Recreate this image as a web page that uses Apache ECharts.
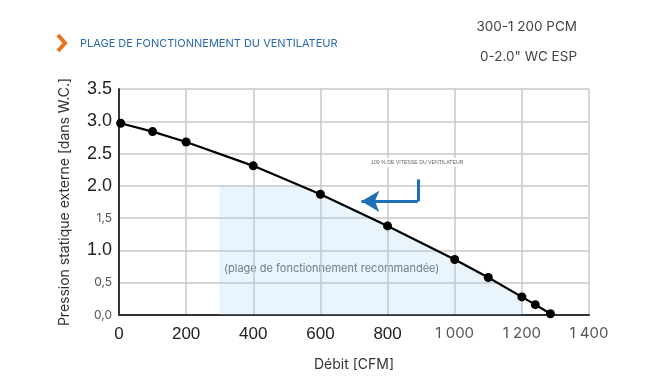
<!DOCTYPE html>
<html><head><meta charset="utf-8">
<script src="https://cdn.jsdelivr.net/npm/echarts@6/dist/echarts.min.js"></script>
<style>html,body{margin:0;padding:0;background:#fff}#c{width:665px;height:380px}</style>
</head><body><div id="c"></div>
<script>
// Data
const flowCFM = [5, 100, 200, 400, 600, 800, 1000, 1100, 1200, 1240, 1285];
const pressure = [2.97, 2.84, 2.68, 2.31, 1.87, 1.38, 0.86, 0.58, 0.28, 0.16, 0.02];
const rangeMin = 300, rangeMax = 1200, rangeTopPressure = 2.0;
const xTickLabels = ['0','200','400','600','800','1 000','1 200','1 400'];
const yTickLabels = ['0,0','0,5','1.0','1,5','2.0','2.5','3.0','3.5'];
const ySmall = ['0,0','0,5','1,5'];
const xSmall = ['1 000','1 200','1 400'];

const curve = flowCFM.map((x,i)=>[x, pressure[i]]);
// shaded operating region: under min(2.0, curve) between rangeMin and rangeMax
const area = [[rangeMin,0],[rangeMin,rangeTopPressure]];
let cross = null;
for(let i=0;i<flowCFM.length-1;i++){
  if(pressure[i]>=rangeTopPressure && pressure[i+1]<rangeTopPressure){
    cross = flowCFM[i]+(pressure[i]-rangeTopPressure)/(pressure[i]-pressure[i+1])*(flowCFM[i+1]-flowCFM[i]);
  }
}
area.push([cross,rangeTopPressure]);
flowCFM.forEach((x,i)=>{ if(x>cross && x<=rangeMax) area.push([x,pressure[i]]); });
area.push([rangeMax,0]);

const chart = echarts.init(document.getElementById('c'));
chart.setOption({
  animation:false,
  grid:{left:119,right:76,top:89,bottom:65},
  xAxis:{type:'value',min:0,max:1400,interval:200,
    name:'Débit [CFM]',nameLocation:'middle',nameGap:43,
    nameTextStyle:{fontFamily:'Inter',fontSize:14,color:'#333'},
    axisLine:{show:true,lineStyle:{color:'#333',width:2}},
    axisTick:{show:false},
    splitLine:{show:true,lineStyle:{color:'#c8c8c8',width:1.5}},
    axisLabel:{margin:11,formatter:(v)=>{const s=xTickLabels[Math.round(v/200)];return xSmall.includes(s)?'{s|'+s+'}':'{b|'+s+'}';},
      rich:{b:{fontFamily:'Liberation Sans',fontSize:17,color:'#222'},
            s:{fontFamily:'Inter',fontSize:15,color:'#555'}}}
  },
  yAxis:{type:'value',min:0,max:3.5,interval:0.5,
    name:'Pression statique externe [dans W.C.]',nameLocation:'middle',nameGap:47,
    nameTextStyle:{fontFamily:'Inter',fontSize:14,color:'#333'},
    axisLine:{show:true,lineStyle:{color:'#333',width:2}},
    axisTick:{show:false},
    splitLine:{show:true,lineStyle:{color:'#c8c8c8',width:1.5}},
    axisLabel:{margin:7,formatter:(v)=>{const s=yTickLabels[Math.round(v*2)];return ySmall.includes(s)?'{s|'+s+'}':'{b|'+s+'}';},
      rich:{b:{fontFamily:'Liberation Sans',fontSize:18,color:'#222'},
            s:{fontFamily:'Inter',fontSize:12,color:'#555'}}}
  },
  series:[
    {type:'line',data:area,symbol:'none',lineStyle:{width:0},silent:true,
     areaStyle:{color:'rgba(150,205,242,0.3)',origin:'start'},z:1},
    {type:'line',data:curve,symbol:'circle',symbolSize:9,
     itemStyle:{color:'#000'},lineStyle:{color:'#000',width:2.2},z:3,
     markLine:{silent:true,symbol:['none','none'],label:{show:false},
       lineStyle:{color:'#1d6fb8',width:3,type:'solid'},
       data:[
         [{coord:[890,2.1]},{coord:[890,1.76]}],
         [{coord:[890,1.76],symbol:'none'},{coord:[722,1.76],symbol:'arrow',symbolSize:[16,18]}]
       ]}}
  ],
  graphic:[
    {type:'polyline',shape:{points:[[58,35],[65,43],[58,51]]},style:{stroke:'#e8731a',lineWidth:4,fill:null}},
    {type:'text',left:80,top:38,style:{text:'PLAGE DE FONCTIONNEMENT DU VENTILATEUR',fontFamily:'Inter',fontSize:11,fill:'#2b6aa8'}},
    {type:'text',right:88,top:20,style:{text:'300-1 200 PCM',fontFamily:'Inter',fontSize:13.5,fill:'#444',align:'right'}},
    {type:'text',right:88,top:50,style:{text:'0-2.0" WC ESP',fontFamily:'Inter',fontSize:13.5,fill:'#444',align:'right'}},
    {type:'text',left:368,top:158,z:10,style:{text:'100 % DE VITESSE DU VENTILATEUR',fontFamily:'Liberation Sans',fontSize:5.2,fill:'#666',backgroundColor:'#fff',padding:[2,3]}},
    {type:'text',left:224,top:263,style:{text:'(plage de fonctionnement recommandée)',fontFamily:'Inter',fontSize:11,fill:'#666'}}
  ]
});
</script></body></html>
